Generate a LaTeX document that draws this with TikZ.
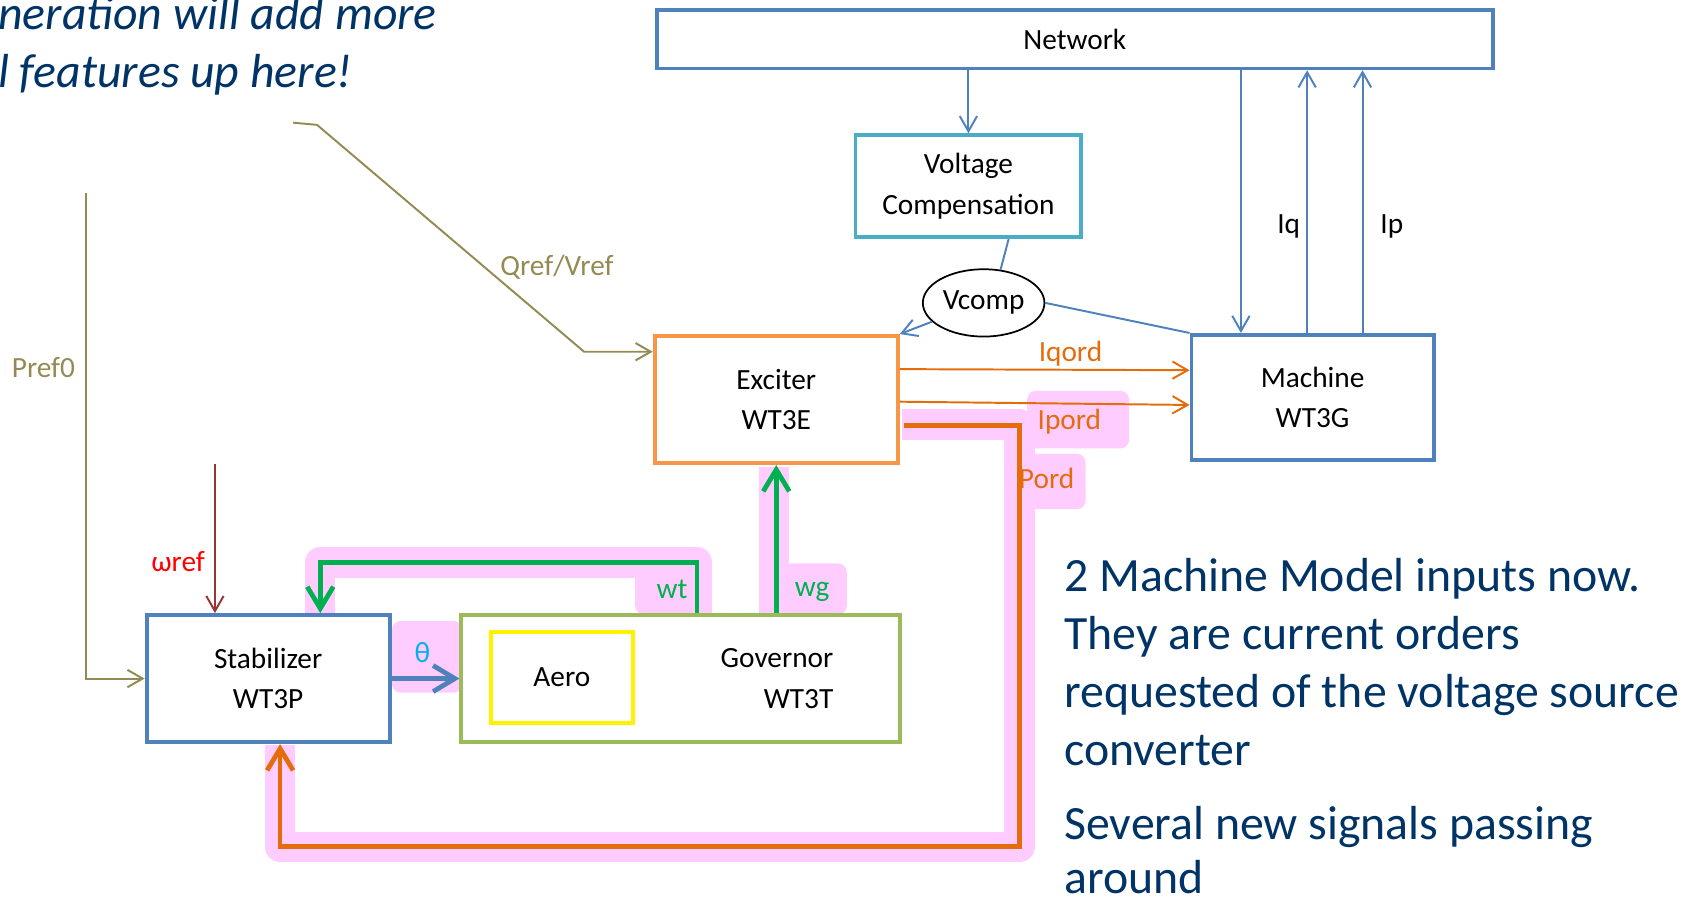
\documentclass[tikz,border=0pt]{standalone}
\usepackage{fontspec}
\setmainfont{Carlito}
\usetikzlibrary{arrows.meta,shapes.geometric}
\definecolor{boxblue}{RGB}{79,129,189}
\definecolor{vccyan}{RGB}{75,172,198}
\definecolor{excor}{RGB}{247,150,70}
\definecolor{sigor}{RGB}{228,108,10}
\definecolor{sigg}{RGB}{0,176,80}
\definecolor{govg}{RGB}{155,187,89}
\definecolor{refolive}{RGB}{148,138,84}
\definecolor{wrefred}{RGB}{149,55,53}
\definecolor{thetac}{RGB}{0,176,240}
\definecolor{hl}{RGB}{255,204,255}
\definecolor{txtblue}{RGB}{0,51,102}
\begin{document}
\begin{tikzpicture}[x=0.5pt,y=-0.5pt,
  lbl/.style={font=\fontsize{13.5}{16}\selectfont, inner sep=0pt},
  blk/.style={draw, fill=white, line width=1.8pt, align=center, inner sep=0pt, font=\fontsize{13.5}{18.5}\selectfont},
  thinarr/.style={line width=0.9pt, -{Straight Barb[length=7pt,width=8pt]}},
  fatarr/.style={line width=2.2pt, -{Straight Barb[length=10pt,width=12pt]}},
  hlband/.style={draw=hl, line width=14pt, line join=round},
  hlbox/.style={fill=hl, rounded corners=4pt},
  bigtxt/.style={font=\fontsize{22}{26.5}\selectfont, text=txtblue, anchor=base west, inner sep=0pt}]
\useasboundingbox (0,0) rectangle (1564,828);

% highlight bands
\draw[hlband] (831,391) -- (939,391) -- (939,780) -- (258,780) -- (258,686);
\fill[hlbox] (946,360) rectangle (1040,413);
\fill[hlbox] (935,418) rectangle (1000,469);
\draw[hlband] (642,567) -- (642,518) -- (295,518) -- (295,567);
\fill[hlbox] (585,518) rectangle (656,566);
\draw[hlband] (713,430) -- (713,566);
\fill[hlbox] (713,519) rectangle (780,566);
\fill[hlbox] (361,572) rectangle (426,638);

% top-left text
\node[bigtxt, font=\fontsize{22}{26.5}\selectfont\itshape] (t1) at (-2,27) {neration will add more};
\node[bigtxt, font=\fontsize{22}{26.5}\selectfont\itshape] (t2) at (-2,81) {l features up here!};

% blocks
\node[blk, draw=boxblue, line width=1.7pt, minimum width=385pt, minimum height=27pt] (net) at (990,36) {Network};
\node[blk, draw=vccyan, minimum width=104pt, minimum height=47pt] (vc) at (892,171.5) {Voltage\\Compensation};
\node[blk, draw=excor, minimum width=112pt, minimum height=58.5pt] (exc) at (715,368) {Exciter\\WT3E};
\node[blk, draw=boxblue, minimum width=111.5pt, minimum height=57.5pt] (mach) at (1209,366) {Machine\\WT3G};
\node[blk, draw=boxblue, minimum width=112pt, minimum height=58.5pt] (stab) at (247,625) {Stabilizer\\WT3P};
\node[blk, draw=govg, minimum width=202pt, minimum height=58.5pt] (gov) at (627,625) {};
\node[blk, draw=yellow, minimum width=65.5pt, minimum height=42pt] (aero) at (517.5,624) {Aero};
\node[lbl, align=right, anchor=east, font=\fontsize{13.5}{18.5}\selectfont] (govt) at (768,625) {Governor\\WT3T};
\node[ellipse, draw=black, line width=0.8pt, fill=white, minimum width=56pt, minimum height=31pt, inner sep=0pt, font=\fontsize{13.5}{16}\selectfont] (vcomp) at (906,279) {Vcomp};

% network connections
\coordinate (m1) at (1143,0);
\coordinate (m2) at (1204,0);
\coordinate (m3) at (1255,0);
\draw[thinarr, boxblue] (net.south -| vc) -- (vc.north);
\draw[thinarr, boxblue] (net.south -| m1) -- (mach.north -| m1);
\draw[thinarr, boxblue] (mach.north -| m2) -- (net.south -| m2);
\draw[thinarr, boxblue] (mach.north -| m3) -- (net.south -| m3);
\node[lbl] (iq) at (1187,209) {Iq};
\node[lbl] (ip) at (1282,209) {Ip};

% voltage compensation
\draw[boxblue, line width=0.9pt] ([xshift=18.5pt]vc.south) -- (vcomp.63);
\draw[thinarr, boxblue] (vcomp.200) -- (exc.north east);
\draw[boxblue, line width=0.9pt] (vcomp.east) -- (mach.north west);

% exciter to machine
\draw[thinarr, sigor] ([yshift=14pt]exc.east) -- ([yshift=12.5pt]mach.west);
\draw[thinarr, sigor] ([yshift=-1pt]exc.east) -- ([yshift=-3.5pt]mach.west);
\node[lbl, text=sigor] (iqord) at (986,326) {Iqord};
\node[lbl, text=sigor] (ipord) at (985,388) {Ipord};

% Pord loop
\coordinate (pA) at (939,392);
\coordinate (pB) at (939,780);
\coordinate (pC) at (258,780);
\draw[fatarr, sigor, line join=miter] ([xshift=2pt,yshift=-12pt]exc.east) -- (pA) -- (pB) -- (pC) -- (stab.south -| pC);
\node[lbl, text=sigor] (pord) at (964,441) {Pord};

% green signals
\coordinate (wg) at (715,0);
\draw[fatarr, sigg] (gov.north -| wg) -- (exc.south -| wg);
\node[lbl, text=sigg] (wgl) at (748,545) {wg};
\coordinate (wt1) at (642,518);
\coordinate (wt2) at (295,518);
\draw[fatarr, sigg] (gov.north -| wt1) -- (wt1) -- (wt2) -- (stab.north -| wt2);
\node[lbl, text=sigg] (wtl) at (619,543) {wt};

% theta
\draw[fatarr, boxblue] (stab.east) -- (gov.west);
\node[lbl, text=thetac] (th) at (389,601) {θ};

% omega ref
\coordinate (wr) at (198,427);
\draw[thinarr, wrefred] (wr) -- (stab.north -| wr);
\node[lbl, text=red] (wrl) at (164,517) {ωref};

% Pref0
\coordinate (pf) at (79,178);
\draw[thinarr, refolive] (pf) |- (stab.west);
\node[lbl, text=refolive] (pfl) at (40,339) {Pref0};

% Qref/Vref
\coordinate (q0) at (270,113);
\coordinate (q1) at (292,115);
\coordinate (q2) at (538,324);
\draw[thinarr, refolive] (q0) -- (q1) -- (q2) -- (exc.west |- q2);
\node[lbl, text=refolive] (qfl) at (513,246) {Qref/Vref};

% right text
\node[bigtxt] (r1) at (980,545) {2 Machine Model inputs now.};
\node[bigtxt] (r2) at (980,598) {They are current orders};
\node[bigtxt] (r3) at (980,652) {requested of the voltage source};
\node[bigtxt] (r4) at (980,705) {converter};
\node[bigtxt] (r5) at (980,773) {Several new signals passing};
\node[bigtxt] (r6) at (980,823) {around};
\end{tikzpicture}
\end{document}
